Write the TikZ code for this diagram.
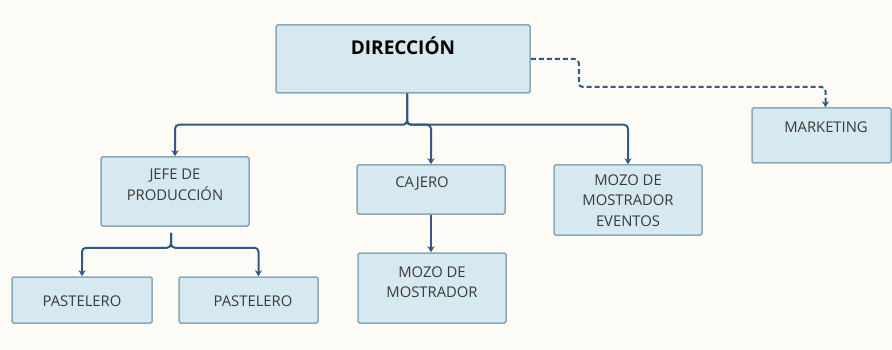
\documentclass[tikz,border=0pt]{standalone}
\usepackage{fontspec}
\setmainfont{Open Sans}
\usetikzlibrary{arrows.meta}
\definecolor{boxfill}{HTML}{D6E8F0}
\definecolor{boxline}{HTML}{8AA8BA}
\definecolor{linkcol}{HTML}{2F5A86}
\definecolor{txtcol}{HTML}{3A3A3A}
\definecolor{paper}{HTML}{FDFBF5}

\begin{document}
\begin{tikzpicture}[x=1pt,y=-1pt]
\fill[paper] (0,0) rectangle (892,350);
\useasboundingbox (0,0) rectangle (892,350);

\begin{scope}[every node/.style={rectangle,draw=boxline,fill=boxfill,line width=1.5pt,
              rounded corners=1.5pt,inner sep=0pt,minimum width=148pt}]
    \node (dir) at (403,59) [minimum width=254pt,minimum height=68pt] {};
    \node (mkt) at (821.5,135.5) [minimum width=139pt,minimum height=55pt] {};
    \node (jefe) at (175,191.5) [minimum height=69pt] {};
    \node (caj) at (431,189.5) [minimum height=49pt] {};
    \node (evt) at (628,200) [minimum height=70pt] {};
    \node (mozo) at (432,288) [minimum height=70pt] {};
    \node (pasA) at (82,300) [minimum width=140pt,minimum height=46pt] {};
    \node (pasB) at (248.5,300) [minimum width=139pt,minimum height=46pt] {};
\end{scope}

\begin{scope}[every node/.style={text=txtcol,align=center,inner sep=0pt,
              font=\fontsize{14.8}{20.5}\selectfont}]
    \node (dirT) at (403,46) [text=black,font=\fontsize{19}{22}\selectfont\bfseries] {DIRECCIÓN};
    \node (mktT) at (826,127) {MARKETING};
    \node (jefeT) at (175,185) {JEFE DE\\PRODUCCIÓN};
    \node (cajT) at (422,184) {CAJERO};
    \node (evtT) at (628,200.5) {MOZO DE\\MOSTRADOR\\EVENTOS};
    \node (mozoT) at (432,282) {MOZO DE\\MOSTRADOR};
    \node (pasAT) at (82,301) {PASTELERO};
    \node (pasBT) at (253,301) {PASTELERO};
\end{scope}

\begin{scope}[>={Stealth[length=6pt,width=7pt]},
              every path/.style={draw=linkcol,line width=2pt,rounded corners=4pt}]
    \draw [->] ([xshift=4pt]dir.south) -- ++(0,31) -| (jefe.north);
    \draw [->] ([xshift=4pt]dir.south) -- ++(0,31) -| (caj.north);
    \draw [->] ([xshift=4pt]dir.south) -- ++(0,31) -| (evt.north);
    \draw [->] (caj.south) -- (caj.south |- mozo.north);
    \draw [->] ([shift={(-4,6)}]jefe.south) -- ++(0,15) -| (pasA.north);
    \draw [->] ([shift={(-4,6)}]jefe.south) -- ++(0,15) -| ([xshift=10pt]pasB.north);
    \draw [->,dash pattern=on 5pt off 3pt] (dir.east) -- ++(48,0) -- ++(0,28) -| ([xshift=4pt]mkt.north);
\end{scope}
\end{tikzpicture}
\end{document}
